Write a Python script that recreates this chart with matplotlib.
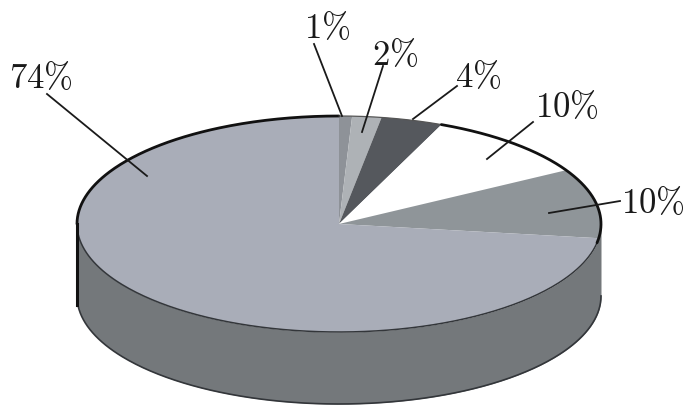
import numpy as np
import matplotlib

matplotlib.use("Agg")
import matplotlib.pyplot as plt

labels = ["1%", "2%", "4%", "10%", "10%", "74%"]
# slice sizes as measured on the drawing, which differ slightly from the printed labels
slice_shares = [0.8, 1.8, 3.8, 10.3, 10.4, 72.9]
slice_colors = ["#8e9298", "#aeb2b6", "#55585d", "#ffffff", "#8f9599", "#a9adb8"]

WIDTH, HEIGHT = 690, 410
LEFT, RIGHT, TOP, BOTTOM = 77, 601, 117, 333
DEPTH = 72 / 108  # side height, in units of the vertical radius
SIDE_COLOR = "#74787b"
EDGE_COLOR = "#33363a"

plt.rcParams["mathtext.fontset"] = "cm"

fig = plt.figure(figsize=(WIDTH / 100, HEIGHT / 100), dpi=100)

# the disc lives in its own axes, squashed so that the unit circle is an ellipse
ax = fig.add_axes(
    [LEFT / WIDTH, 1 - BOTTOM / HEIGHT, (RIGHT - LEFT) / WIDTH, (BOTTOM - TOP) / HEIGHT]
)
wedges, _ = ax.pie(
    slice_shares,
    colors=slice_colors,
    startangle=90,
    counterclock=False,
    radius=1,
    wedgeprops={"linewidth": 0},
)
ax.set_aspect("auto")
ax.set_xlim(-1, 1)
ax.set_ylim(-1, 1)

# side of the cylinder
xs = np.cos(np.linspace(np.pi, 2 * np.pi, 300))
front = -np.sqrt(1 - xs**2)
ax.fill_between(xs, front, front - DEPTH, color=SIDE_COLOR, lw=0, zorder=0, clip_on=False)


def arc(start, stop, **kwargs):
    t = np.radians(np.linspace(start, stop, 200))
    ax.plot(np.cos(t), np.sin(t), clip_on=False, zorder=5, solid_capstyle="round", **kwargs)


# outline: thin along the front, heavy on the back
arc(180, 350, color=EDGE_COLOR, lw=1.1)
arc(90, 180, color="#111111", lw=2.0)
arc(90, 67, color="#555555", lw=0.9)
arc(67, -10, color="#111111", lw=2.0)
ax.plot(xs, front - DEPTH, color=EDGE_COLOR, lw=1.2, clip_on=False, zorder=5)
ax.plot([-1, -1], [0, -DEPTH - 0.08], color="#111111", lw=2.2, clip_on=False, zorder=5)

# overlay in image pixels for the labels and their leader lines
overlay = fig.add_axes([0, 0, 1, 1], facecolor="none")
overlay.set_xlim(0, WIDTH)
overlay.set_ylim(HEIGHT, 0)
overlay.axis("off")

label_pos = [(327, 38), (395, 65), (478, 87), (567, 117), (653, 213), (41, 88)]
leader_from = [(314, 45), (383, 67), (457, 87), (533, 123), (620, 202), (47, 95)]
leader_to = [(342, 117), (362, 133), (413, 120), (487, 160), (549, 214), (147, 177)]

for label, pos, p0, p1 in zip(labels, label_pos, leader_from, leader_to):
    overlay.text(
        pos[0],
        pos[1],
        "$" + label.replace("%", r"\%") + "$",
        fontsize=25,
        color="#1a1a1a",
        ha="center",
        va="baseline",
    )
    overlay.plot([p0[0], p1[0]], [p0[1], p1[1]], color="#1a1a1a", lw=1.3)

fig.savefig("out.png", dpi=100)
plt.close(fig)
